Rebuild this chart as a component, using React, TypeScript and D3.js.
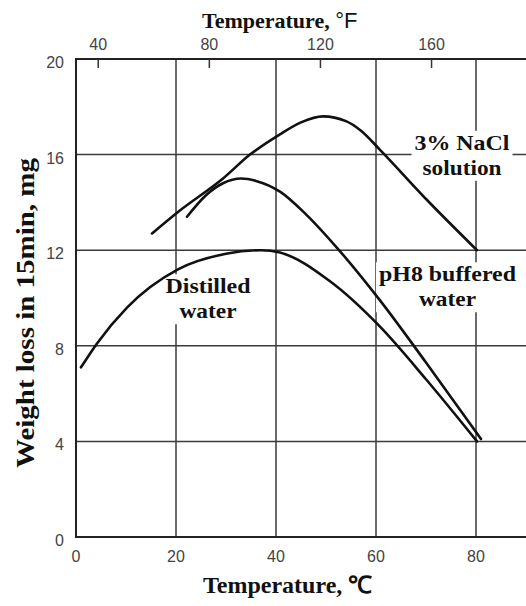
import React, { useRef, useEffect } from 'react';
import * as d3 from 'd3';

// Celsius ticks (bottom), Fahrenheit ticks (top), weight loss ticks (left)
const celsiusTicks = [0, 20, 40, 60, 80];
const fahrenheitTicks = [40, 80, 120, 160];
const weightTicks = [0, 4, 8, 12, 16, 20];

// curves: [temperature °C, weight loss mg]
const distilledWater: [number, number][] = [
  [1, 7.1], [4.2, 8.1], [10.2, 9.6], [20.4, 11.2], [30, 11.85], [37, 12.0],
  [40.8, 11.9], [50.8, 10.7], [60.8, 8.8], [70, 6.6], [80.2, 4.0],
];
const ph8Water: [number, number][] = [
  [22.2, 13.4], [26, 14.3], [29.4, 14.8], [33, 15.0], [36, 14.9], [40.8, 14.45],
  [46, 13.5], [52.2, 12.1], [60.8, 9.9], [70, 7.3], [81, 4.1],
];
const naclSolution: [number, number][] = [
  [15.2, 12.7], [20.4, 13.6], [29.4, 15.0], [34.8, 16.0], [40.8, 16.85], [45, 17.35],
  [49.4, 17.6], [54, 17.4], [57, 17.0], [60.8, 16.2], [70.2, 14.1], [80.2, 12.0],
];

// curve labels: lines, centre (°C), first baseline (mg)
const curveLabels = [
  { lines: ['3% NaCl', 'solution'], x: 77.2, y: 16.2, widths: [95, 79] },
  { lines: ['pH8 buffered', 'water'], x: 74.3, y: 10.7, widths: [137, 57] },
  { lines: ['Distilled', 'water'], x: 26.4, y: 10.2, widths: [85, 57] },
];

const App = () => {
  const chartRef = useRef<SVGSVGElement>(null);

  useEffect(() => {
    const svg = d3.select(chartRef.current);
    svg.selectAll('*').remove();

    const x = d3.scaleLinear().domain([0, 90]).range([76, 526]);
    const y = d3.scaleLinear().domain([0, 20]).range([537, 59]);
    const f2c = (f: number) => ((f - 32) * 5) / 9;

    const serif = '"Liberation Serif", "Times New Roman", serif';
    const sans = '"Liberation Sans", Arial, sans-serif';

    // grid
    const grid = svg.append('g').attr('stroke', '#3a3a3a').attr('stroke-width', 1.5);
    grid.selectAll('.vgrid')
      .data(celsiusTicks.filter(d => d > 0))
      .enter().append('line')
      .attr('x1', d => x(d)).attr('x2', d => x(d))
      .attr('y1', y(20)).attr('y2', y(0));
    grid.selectAll('.hgrid')
      .data(weightTicks.filter(d => d > 0 && d < 20))
      .enter().append('line')
      .attr('x1', x(0)).attr('x2', x(90))
      .attr('y1', d => y(d)).attr('y2', d => y(d));

    // frame
    svg.append('path')
      .attr('d', `M${x(90)},${y(20)}H${x(0)}V${y(0)}H${x(90)}`)
      .attr('fill', 'none')
      .attr('stroke', '#222')
      .attr('stroke-width', 2);

    // top Fahrenheit ticks
    svg.append('g').selectAll('line')
      .data(fahrenheitTicks)
      .enter().append('line')
      .attr('x1', d => x(f2c(d))).attr('x2', d => x(f2c(d)))
      .attr('y1', y(20)).attr('y2', y(20) + 9)
      .attr('stroke', '#333').attr('stroke-width', 1.5);

    // tick labels
    const tickStyle = (sel: any) => sel
      .style('font-family', sans)
      .style('font-size', '16px')
      .attr('fill', '#444');

    svg.append('g').selectAll('text')
      .data(fahrenheitTicks)
      .enter().append('text')
      .attr('x', d => x(f2c(d)))
      .attr('y', 50)
      .attr('text-anchor', 'middle')
      .text(d => d)
      .call(tickStyle);

    svg.append('g').selectAll('text')
      .data(celsiusTicks)
      .enter().append('text')
      .attr('x', d => x(d))
      .attr('y', 562)
      .attr('text-anchor', 'middle')
      .text(d => d)
      .call(tickStyle);

    svg.append('g').selectAll('text')
      .data(weightTicks)
      .enter().append('text')
      .attr('x', 64)
      .attr('y', d => y(d) + 9)
      .attr('text-anchor', 'end')
      .text(d => d)
      .call(tickStyle);

    // curve labels with white backing
    curveLabels.forEach(lab => {
      const cx = x(lab.x);
      const by = y(lab.y);
      const w = Math.max(...lab.widths) + 6;
      svg.append('rect')
        .attr('x', cx - w / 2)
        .attr('y', by - 19)
        .attr('width', w)
        .attr('height', 50)
        .attr('fill', '#fff');
      lab.lines.forEach((t, i) => {
        svg.append('text')
          .attr('x', cx)
          .attr('y', by + i * 25)
          .attr('text-anchor', 'middle')
          .attr('textLength', lab.widths[i])
          .attr('lengthAdjust', 'spacingAndGlyphs')
          .style('font-family', serif)
          .style('font-weight', 'bold')
          .style('font-size', '21px')
          .attr('fill', '#111')
          .text(t);
      });
    });

    // curves
    const line = d3.line<[number, number]>()
      .x(d => x(d[0]))
      .y(d => y(d[1]))
      .curve(d3.curveMonotoneX);

    [distilledWater, ph8Water, naclSolution].forEach(series => {
      svg.append('path')
        .datum(series)
        .attr('d', line)
        .attr('fill', 'none')
        .attr('stroke', '#111')
        .attr('stroke-width', 2.6)
        .attr('stroke-linecap', 'round');
    });

    // axis titles
    const top = svg.append('text')
      .attr('x', 202)
      .attr('y', 28)
      .style('font-family', serif)
      .style('font-weight', 'bold')
      .style('font-size', '22px')
      .attr('fill', '#111');
    top.append('tspan').text('Temperature, ');
    top.append('tspan')
      .style('font-family', sans)
      .style('font-weight', 'normal')
      .text('°F');

    svg.append('text')
      .attr('x', 203)
      .attr('y', 593)
      .style('font-family', serif)
      .style('font-weight', 'bold')
      .style('font-size', '24px')
      .attr('fill', '#111')
      .text('Temperature, ℃');

    svg.append('text')
      .attr('transform', 'translate(34,313) rotate(-90)')
      .attr('text-anchor', 'middle')
      .attr('textLength', 310)
      .attr('lengthAdjust', 'spacingAndGlyphs')
      .style('font-family', serif)
      .style('font-weight', 'bold')
      .style('font-size', '25px')
      .attr('fill', '#111')
      .text('Weight loss in 15min, mg');
  }, []);

  return (
    <svg
      ref={chartRef}
      width={526}
      height={606}
      style={{ position: 'absolute', left: 0, top: 0, background: '#fff' }}
    />
  );
};

export default App;
